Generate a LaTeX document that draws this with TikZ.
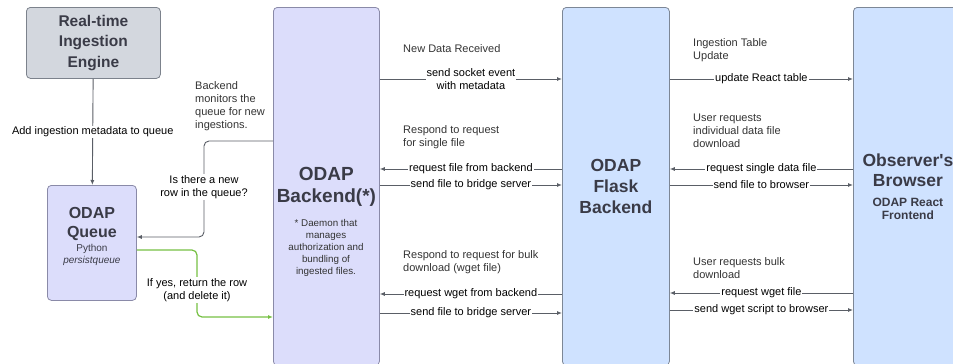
\documentclass[tikz,border=0pt]{standalone}
\usepackage{fontspec}
\setmainfont{Liberation Sans}
\usetikzlibrary{arrows.meta, positioning}

\definecolor{engfill}{HTML}{D3D7DE}
\definecolor{engline}{HTML}{7C828C}
\definecolor{lavfill}{HTML}{DCDDFB}
\definecolor{lavline}{HTML}{8A8AA8}
\definecolor{bluefill}{HTML}{CFE2FF}
\definecolor{blueline}{HTML}{7D8796}
\definecolor{titlecol}{HTML}{3A3B47}
\definecolor{notecol}{HTML}{333333}
\definecolor{linecol}{HTML}{5A5E66}
\definecolor{yesgreen}{HTML}{76C043}

\tikzset{
  lbl/.style={font=\fontsize{11}{13}\selectfont, fill=white, inner sep=1pt, align=center},
  note/.style={font=\fontsize{11}{13}\selectfont, inner sep=0pt, align=left, anchor=west, text=notecol},
  arr/.style={draw=linecol, line width=0.9pt, -{Latex[length=5pt,width=4pt]}}
}

\begin{document}
\begin{tikzpicture}[x=1pt,y=-1pt]
  \clip (0,0) rectangle (953,364);
  % boxes
  \begin{scope}[every node/.style={draw,rounded corners=4pt,line width=0.8pt,inner sep=0pt,anchor=north west,align=center,text=titlecol}]
    \node[fill=engfill,draw=engline,minimum width=134pt,minimum height=71pt,
          font=\fontsize{15.5}{20.5}\selectfont\bfseries] (engine) at (26,7) {Real-time\\Ingestion\\Engine};
    \node[fill=lavfill,draw=lavline,minimum width=89pt,minimum height=115pt,
          font=\fontsize{10}{12}\selectfont] (queue) at (47,185)
          {{\fontsize{16}{19}\selectfont\bfseries ODAP}\\[7pt]{\fontsize{16}{19}\selectfont\bfseries Queue}\\[2pt]Python\\\textit{persistqueue}\\[2pt]};
    \node[fill=lavfill,draw=lavline,minimum width=106pt,minimum height=358pt,
          font=\fontsize{19}{22}\selectfont\bfseries] (backend) at (273,7) {ODAP\\Backend(*)};
    \node[fill=bluefill,draw=blueline,minimum width=107pt,minimum height=358pt,
          font=\fontsize{17.5}{21}\selectfont\bfseries] (flask) at (562,7) {ODAP\\Flask\\Backend};
    \node[fill=bluefill,draw=blueline,minimum width=109pt,minimum height=358pt,
          font=\fontsize{17.5}{20}\selectfont\bfseries] (browser) at (853,7)
          {Observer\textquotesingle s\\Browser\\{\fontsize{12}{14}\selectfont ODAP React}\\[-7pt]{\fontsize{12}{14}\selectfont Frontend}};
  \end{scope}
  \node[font=\fontsize{9.8}{12}\selectfont, align=center, text=notecol, inner sep=0pt] (daemon) at (326,248)
    {* Daemon that\\manages\\authorization and\\bundling of\\ingested files.};

  % rows of the connectors
  \coordinate (r1) at (0,79);
  \coordinate (r2) at (0,169);
  \coordinate (r3) at (0,185);
  \coordinate (r4) at (0,294);
  \coordinate (r5) at (0,313);
  \coordinate (q1) at (0,141);
  \coordinate (k1) at (204,237);
  \coordinate (k2) at (197,317);

  % queue loop
  \draw[arr] (engine) -- node[lbl] {Add ingestion metadata to queue} (queue);
  \draw[arr, rounded corners=5pt] (backend.west |- q1) -| (k1) -- (queue.east |- k1);
  \node[lbl] (isnew) at (204,187) {Is there a new\\row in the queue?};
  \draw[arr, draw=yesgreen, line width=1.2pt, rounded corners=5pt] (queue.east |- 0,250) -| (k2) -- (backend.west |- k2);
  \node[lbl] (ifyes) at (197,290) {If yes, return the row\\(and delete it)};
  \node[note] (monitors) at (195,106) {Backend\\monitors the\\queue for new\\ingestions.};

  % backend <-> flask
  \begin{scope}[every edge/.style={arr}]
    \path (backend.east |- r1) edge node[lbl] {send socket event\\with metadata} (flask.west |- r1);
    \path (flask.west |- r2) edge node[lbl] {request file from backend} (backend.east |- r2);
    \path (backend.east |- r3) edge node[lbl] {send file to bridge server} (flask.west |- r3);
    \path (flask.west |- r4) edge node[lbl] {request wget from backend} (backend.east |- r4);
    \path (backend.east |- r5) edge node[lbl] {send file to bridge server} (flask.west |- r5);
  \end{scope}
  \node[note] (newdata) at (403,49) {New Data Received};
  \node[note] (single) at (403,137) {Respond to request\\for single file};
  \node[note] (bulk) at (403,262) {Respond to request for bulk\\download (wget file)};

  % flask <-> browser
  \begin{scope}[every edge/.style={arr}]
    \path (flask.east |- r1) edge node[lbl] {update React table} (browser.west |- r1);
    \path (browser.west |- r2) edge node[lbl] {request single data file} (flask.east |- r2);
    \path (flask.east |- r3) edge node[lbl] {send file to browser} (browser.west |- r3);
    \path (browser.west |- 0,293) edge node[lbl] {request wget file} (flask.east |- 0,293);
    \path (flask.east |- 0,310) edge node[lbl] {send wget script to browser} (browser.west |- 0,310);
  \end{scope}
  \node[note] (tableupd) at (693,50) {Ingestion Table\\Update};
  \node[note] (indiv) at (693,131) {User requests\\individual data file\\download};
  \node[note] (bulkreq) at (693,268) {User requests bulk\\download};
\end{tikzpicture}
\end{document}
